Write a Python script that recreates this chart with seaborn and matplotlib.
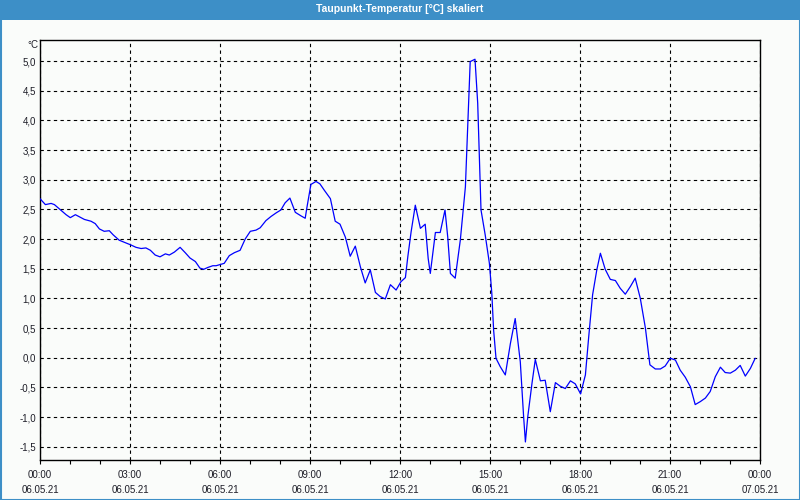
import matplotlib
matplotlib.use("Agg")
import matplotlib.pyplot as plt
from matplotlib.patches import Rectangle
from matplotlib.ticker import MultipleLocator, FixedLocator
import seaborn as sns
import pandas as pd

# ---- data (hours since 06.05.21 00:00, dew point in °C) ----
hours = [0.00, 0.18, 0.37, 0.48, 0.64, 0.87, 1.01, 1.18, 1.48, 1.70, 1.84, 1.98,
         2.14, 2.31, 2.44, 2.64, 2.84, 3.03, 3.20, 3.37, 3.53, 3.68, 3.84, 4.00,
         4.18, 4.31, 4.48, 4.67, 4.84, 5.00, 5.18, 5.33, 5.46, 5.59, 5.76, 5.87,
         6.01, 6.14, 6.31, 6.48, 6.67, 6.84, 7.01, 7.20, 7.34, 7.53, 7.70, 7.87,
         8.03, 8.17, 8.33, 8.51, 8.70, 8.84, 8.89, 9.03, 9.20, 9.33, 9.48, 9.68,
         9.84, 10.00, 10.18, 10.34, 10.51, 10.68, 10.84, 11.01, 11.18, 11.34, 11.51, 11.68,
         11.87, 12.03, 12.18, 12.26, 12.37, 12.51, 12.68, 12.84, 12.94, 13.01, 13.18, 13.34,
         13.50, 13.59, 13.68, 13.84, 14.01, 14.18, 14.29, 14.34, 14.50, 14.59, 14.70, 14.84,
         14.98, 15.06, 15.12, 15.20, 15.34, 15.51, 15.68, 15.84, 16.01, 16.12, 16.18, 16.26,
         16.40, 16.51, 16.68, 16.84, 17.01, 17.18, 17.34, 17.51, 17.68, 17.84, 18.02, 18.18,
         18.29, 18.42, 18.56, 18.68, 18.84, 19.01, 19.18, 19.34, 19.51, 19.68, 19.84, 20.01,
         20.18, 20.33, 20.51, 20.68, 20.84, 21.01, 21.18, 21.34, 21.51, 21.68, 21.84, 22.01,
         22.18, 22.34, 22.51, 22.68, 22.84, 23.01, 23.18, 23.34, 23.51, 23.68, 23.84]
dewpoint = [2.68, 2.58, 2.60, 2.58, 2.51, 2.41, 2.36, 2.41, 2.33, 2.30, 2.26, 2.17,
            2.13, 2.14, 2.07, 1.98, 1.94, 1.90, 1.86, 1.84, 1.85, 1.81, 1.73, 1.70,
            1.75, 1.73, 1.78, 1.86, 1.77, 1.68, 1.62, 1.51, 1.49, 1.52, 1.55, 1.55,
            1.57, 1.59, 1.72, 1.77, 1.81, 2.00, 2.13, 2.15, 2.19, 2.31, 2.38, 2.44,
            2.49, 2.61, 2.69, 2.45, 2.39, 2.35, 2.51, 2.92, 2.97, 2.93, 2.82, 2.68,
            2.30, 2.25, 2.03, 1.71, 1.88, 1.53, 1.26, 1.48, 1.10, 1.03, 0.99, 1.23,
            1.14, 1.28, 1.35, 1.70, 2.12, 2.57, 2.18, 2.25, 1.67, 1.42, 2.11, 2.11,
            2.49, 2.04, 1.42, 1.34, 1.98, 2.88, 4.34, 4.99, 5.03, 4.29, 2.49, 2.07,
            1.59, 1.09, 0.47, -0.01, -0.15, -0.29, 0.24, 0.66, -0.07, -0.99, -1.42, -0.99,
            -0.43, -0.03, -0.39, -0.38, -0.91, -0.42, -0.48, -0.52, -0.39, -0.44, -0.61, -0.29,
            0.35, 1.06, 1.48, 1.76, 1.49, 1.32, 1.30, 1.17, 1.07, 1.20, 1.34, 1.00,
            0.50, -0.12, -0.19, -0.19, -0.14, -0.01, -0.04, -0.21, -0.33, -0.49, -0.79, -0.74,
            -0.68, -0.57, -0.32, -0.16, -0.25, -0.26, -0.21, -0.13, -0.31, -0.18, -0.01]

x_ticks = [0, 3, 6, 9, 12, 15, 18, 21, 24]
x_tick_labels = ["00:00\n06.05.21", "03:00\n06.05.21", "06:00\n06.05.21",
                 "09:00\n06.05.21", "12:00\n06.05.21", "15:00\n06.05.21",
                 "18:00\n06.05.21", "21:00\n06.05.21", "00:00\n07.05.21"]
y_ticks = [-1.5, -1.0, -0.5, 0.0, 0.5, 1.0, 1.5, 2.0, 2.5, 3.0, 3.5, 4.0, 4.5, 5.0]
y_tick_labels = [f"{v:.1f}".replace(".", ",") for v in y_ticks]
title = "Taupunkt-Temperatur [°C] skaliert"
unit = "°C"

df = pd.DataFrame({"h": hours, "v": dewpoint})

sns.set_theme(style="white")
plt.rcParams["font.family"] = ["Liberation Sans", "DejaVu Sans"]

BG = "#FAFCFA"
BLUE_BAR = "#3D8FC7"
TXT = "#1E1E28"

fig = plt.figure(figsize=(8, 5), dpi=100, facecolor=BG)
ax = fig.add_axes([40 / 800, 1 - 460 / 500, 720 / 800, 420 / 500])
ax.set_facecolor(BG)

sns.lineplot(data=df, x="h", y="v", ax=ax, color="#0000FF", linewidth=0.9, zorder=3)

ax.set_xlim(0, 24)
ax.set_ylim(-1.724, 5.354)
ax.set_xticks(x_ticks)
ax.set_xticklabels(x_tick_labels, fontsize=7, color=TXT, linespacing=1.65)
ax.xaxis.set_minor_locator(MultipleLocator(1))
ax.set_yticks(y_ticks)
ax.set_yticklabels(y_tick_labels, fontsize=7, color=TXT)
ax.set_xlabel("")
ax.set_ylabel("")

ax.tick_params(axis="x", which="both", direction="out", length=3, width=0.8,
               color="black", bottom=True, pad=4)
ax.tick_params(axis="y", which="both", length=0, pad=3)

ax.grid(True, which="major", color="black", linestyle=(0, (3, 3)), linewidth=0.8)
for s in ax.spines.values():
    s.set_visible(True)
    s.set_color("black")
    s.set_linewidth(1.0)

fig.text(38 / 800, 1 - 45 / 500, unit, ha="right", va="center", fontsize=7, color=TXT)

# title bar and frame
fig.patches.append(Rectangle((0, 1 - 20 / 500), 1, 20 / 500, transform=fig.transFigure,
                             facecolor=BLUE_BAR, edgecolor="none", zorder=0))
fig.patches.append(Rectangle((0.5 / 800, 0.5 / 500), 799 / 800, 499 / 500,
                             transform=fig.transFigure, facecolor="none",
                             edgecolor=BLUE_BAR, linewidth=1.5, zorder=1))
fig.text(0.5, 1 - 9 / 500, title, ha="center", va="center", fontsize=7.5,
         fontweight="bold", color="white")

fig.savefig("out.png", dpi=100, facecolor=BG)
